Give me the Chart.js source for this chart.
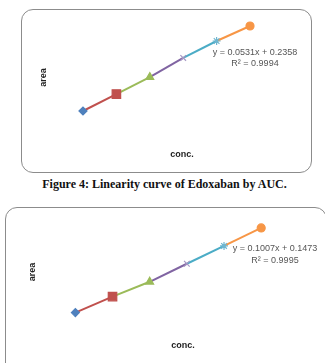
<!DOCTYPE html>
<html>
<head>
<meta charset="utf-8">
<script src="https://cdn.jsdelivr.net/npm/chart.js@4"></script>
<style>
  body { margin: 0; background: #fff; width: 325px; height: 363px; overflow: hidden; position: relative; }
  .frame { position: absolute; border: 1px solid #8c8c8c; border-radius: 12px; box-sizing: border-box; }
  .box { position: absolute; }
  .eq { position: absolute; transform: translate(-50%, -50%); font: 9px "Liberation Sans", sans-serif; color: #555; white-space: nowrap; }
  .caption { position: absolute; left: 2px; width: 325px; text-align: center; font: bold 12px "Liberation Serif", serif; color: #111; }
</style>
</head>
<body>
<div class="frame" style="left:21px;top:9px;width:291px;height:164px;"></div>
<div class="box" style="left:22px;top:10px;width:289px;height:161px;"><canvas id="chart1"></canvas></div>
<div class="eq" id="eq1" style="left:255px;top:52px;"></div>
<div class="eq" id="r1" style="left:255px;top:63px;"></div>

<div class="caption" id="caption" style="top:177px;"></div>

<div class="frame" style="left:5px;top:207px;width:322px;height:170px;"></div>
<div class="box" style="left:6px;top:208px;width:318px;height:155px;"><canvas id="chart2"></canvas></div>
<div class="eq" id="eq2" style="left:275px;top:248px;"></div>
<div class="eq" id="r2" style="left:275px;top:260px;"></div>

<script>
// concentrations (evenly spaced levels) and measured areas
const concLevels = [10, 20, 30, 40, 50, 60];
const areaAUC = [0.77, 1.30, 1.83, 2.43, 2.96, 3.43];
const areaSecond = [1.15, 2.10, 2.98, 4.05, 5.11, 6.18];

const trend1 = ['y = 0.0531x + 0.2358', 'R\u00b2 = 0.9994'];
const trend2 = ['y = 0.1007x + 0.1473', 'R\u00b2 = 0.9995'];
const captionText = 'Figure 4: Linearity curve of Edoxaban by AUC.';

// excel-ish "vary colors by point"
const pointColors = ['#4F81BD', '#C0504D', '#9BBB59', '#A597C4', '#6FB6D0', '#F79646'];
const lineColors = ['#4F81BD', '#C0504D', '#9BBB59', '#8064A2', '#4BACC6', '#F79646'];
const markerStyles = ['rectRot', 'rect', 'triangle', 'crossRot', 'star', 'circle'];
const markerRadius = [4, 6, 4.5, 4, 4, 4];

document.getElementById('eq1').textContent = trend1[0];
document.getElementById('r1').textContent = trend1[1];
document.getElementById('eq2').textContent = trend2[0];
document.getElementById('r2').textContent = trend2[1];
document.getElementById('caption').textContent = captionText;

const titleFont = { family: '"Liberation Sans", sans-serif', size: 9, weight: 'bold' };

function makeChart(id, yValues, xMin, xMax, yMin, yMax, padding) {
  const ctx = document.getElementById(id).getContext('2d');
  return new Chart(ctx, {
    type: 'scatter',
    data: {
      datasets: [{
        data: concLevels.map((c, i) => ({ x: c, y: yValues[i] })),
        showLine: true,
        borderWidth: 2,
        borderColor: '#C0504D',
        segment: {
          borderColor: (s) => lineColors[s.p1DataIndex]
        },
        pointStyle: markerStyles,
        pointRadius: markerRadius,
        pointBackgroundColor: pointColors,
        pointBorderColor: pointColors,
        pointBorderWidth: 1.2
      }]
    },
    options: {
      responsive: true,
      maintainAspectRatio: false,
      animation: false,
      layout: { padding: padding, autoPadding: false },
      plugins: { legend: { display: false }, tooltip: { enabled: false } },
      scales: {
        x: {
          min: xMin, max: xMax,
          ticks: { display: false },
          grid: { display: false, drawTicks: false },
          border: { display: false },
          title: { display: true, text: 'conc.', color: '#222', font: titleFont, padding: { top: 4, bottom: 4 } }
        },
        y: {
          min: yMin, max: yMax,
          ticks: { display: false },
          grid: { display: false, drawTicks: false },
          border: { display: false },
          title: { display: true, text: 'area', color: '#222', font: titleFont, padding: { top: 4, bottom: 4 } }
        }
      }
    }
  });
}

makeChart('chart1', areaAUC, 0.96, 78.26, -0.30, 3.93, { left: 12, right: 0, top: 0, bottom: 7 });
makeChart('chart2', areaSecond, 0.97, 76.9, -0.25, 7.36, { left: 17, right: 0, top: 0, bottom: 8 });
</script>
</body>
</html>
